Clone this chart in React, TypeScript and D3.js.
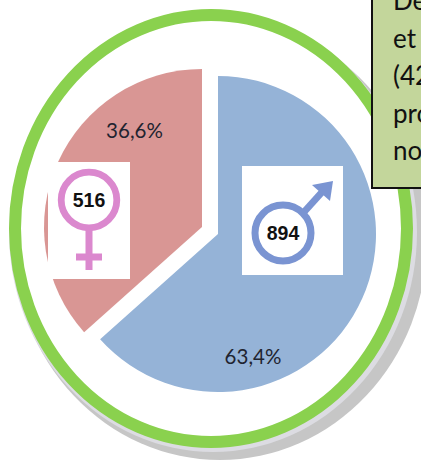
import React from "react";
import * as d3 from "d3";

const genders = ["Hommes", "Femmes"];
const counts = [894, 516];
const percentLabels = ["63,4%", "36,6%"];
const noteLines = ["De", "et d", "(42", "pro", "no"];

const W = 421, H = 460;
const sliceColors = ["#95B3D7", "#D99694"];
const sliceCenters: [number, number][] = [[218, 234], [202, 227]];
const labelPos: [number, number][] = [[253, 364], [134.5, 137.5]];
const R = 158;

export default function App() {
  const pie = d3.pie<number>().sort(null).startAngle(0).endAngle(2 * Math.PI);
  const arcs = pie(counts);
  const arc = d3.arc<d3.PieArcDatum<number>>().innerRadius(0).outerRadius(R);
  const textFont = "Lato, 'Open Sans', sans-serif";
  const numFont = "'Liberation Sans', Arial, sans-serif";
  const female = "#DB88CE";
  const male = "#7A94D2";
  return (
    <svg width={W} height={H} viewBox={`0 0 ${W} ${H}`} style={{ position: "absolute", left: 0, top: 0, background: "#fff" }}>
      <ellipse cx={220} cy={240} rx={207} ry={220} fill="#C6C6C6" />
      <ellipse cx={213} cy={232} rx={204} ry={220} fill="#DCDCE2" />
      <ellipse cx={211} cy={228.5} rx={196} ry={213.5} fill="#fff" stroke="#8AD14E" strokeWidth={12} />

      {arcs.map((a, i) => (
        <path key={genders[i]} d={arc(a) ?? ""} transform={`translate(${sliceCenters[i][0]},${sliceCenters[i][1]})`} fill={sliceColors[i]} />
      ))}
      {arcs.map((a, i) => (
        <text key={percentLabels[i]} x={labelPos[i][0]} y={labelPos[i][1]} textAnchor="middle" fontFamily={textFont} fontSize={20.5} fill="#1f2430">
          {percentLabels[i]}
        </text>
      ))}

      <rect x={48} y={162} width={82} height={117} fill="#fff" />
      <circle cx={89} cy={200} r={27.8} fill="#fff" stroke={female} strokeWidth={6.8} />
      <rect x={85.5} y={229} width={7} height={41} fill={female} />
      <rect x={76} y={253.5} width={26} height={7} fill={female} />
      <text x={89} y={207} textAnchor="middle" fontFamily={numFont} fontWeight={700} fontSize={19.5} fill="#111">{counts[1]}</text>

      <rect x={242} y={166} width={101} height={109} fill="#fff" />
      <line x1={304} y1={212} x2={323} y2={191} stroke={male} strokeWidth={7} />
      <path d="M312,185 L333,181 L330,201 Z" fill={male} />
      <circle cx={283} cy={233} r={28} fill="#fff" stroke={male} strokeWidth={7} />
      <text x={283} y={240} textAnchor="middle" fontFamily={numFont} fontWeight={700} fontSize={19.5} fill="#111">{counts[0]}</text>

      <rect x={372} y={-5} width={60} height={193} fill="#C3D69B" stroke="#111" strokeWidth={2} />
      {noteLines.map((t, i) => (
        <text key={t} x={393} y={10 + i * 37.5} fontFamily={textFont} fontSize={26} fill="#111">{t}</text>
      ))}
    </svg>
  );
}
